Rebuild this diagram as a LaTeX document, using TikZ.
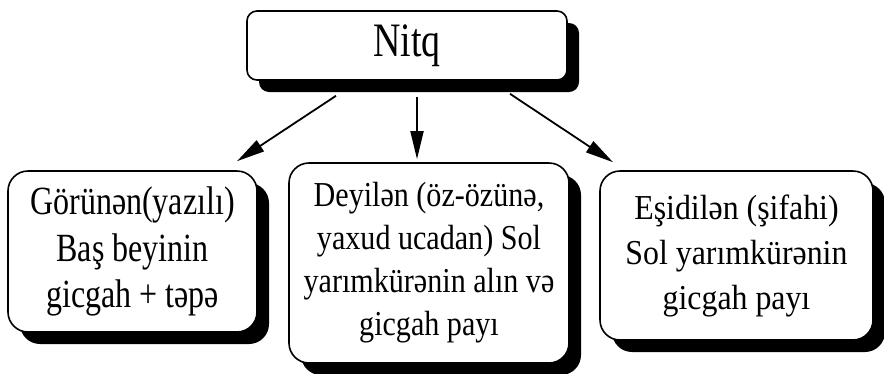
\documentclass[tikz,border=0pt]{standalone}
\usepackage{fontspec}
\setmainfont{Liberation Serif}
\newfontfamily\fnitq{Liberation Serif}[FakeStretch=0.79]
\newfontfamily\fleft{Liberation Serif}[FakeStretch=0.8]
\newfontfamily\fmid{Liberation Serif}[FakeStretch=0.86]
\newfontfamily\fright{Liberation Serif}[FakeStretch=0.91]
\usetikzlibrary{shadows,arrows.meta}
\begin{document}
\begin{tikzpicture}[x=1pt,y=-1pt,
  box/.style={draw=black,line width=1.6pt,fill=white,align=center,inner sep=0pt,
    drop shadow={shadow xshift=12pt,shadow yshift=-12pt,fill=black,opacity=1}},
  arr/.style={line width=1.8pt,-{Triangle[length=28pt,width=13pt]}}]
\useasboundingbox (0,0) rectangle (884,373);
\node[box,rounded corners=10pt,minimum width=320pt,minimum height=69pt,
  font={\fnitq\fontsize{48}{56}\selectfont}] (nitq) at (407,45.5) {Nitq};
\node[box,rounded corners=20pt,minimum width=249pt,minimum height=161pt,
  font={\fleft\fontsize{40}{46.5}\selectfont}] (left) at (132.5,251.5)
  {Görünən(yazılı)\\Baş beyinin\\gicgah + təpə};
\node[box,rounded corners=20pt,minimum width=280pt,minimum height=200pt,
  font={\fmid\fontsize{35}{43}\selectfont}] (mid) at (429,263)
  {Deyilən (öz-özünə,\\yaxud ucadan) Sol\\yarımkürənin alın və\\gicgah payı};
\node[box,rounded corners=20pt,minimum width=273pt,minimum height=169pt,
  font={\fright\fontsize{35}{45}\selectfont}] (right) at (736.5,255.5)
  {Eşidilən (şifahi)\\Sol yarımkürənin\\gicgah payı};
\draw[arr] ([xshift=-71pt,yshift=-15pt]nitq.south) -- ([xshift=104.5pt,yshift=9pt]left.north);
\draw[arr] ([xshift=10pt,yshift=-16pt]nitq.south) -- ([xshift=-12pt,yshift=3pt]mid.north);
\draw[arr] ([xshift=103pt,yshift=-13pt]nitq.south) -- ([xshift=-123.5pt,yshift=8pt]right.north);
\end{tikzpicture}
\end{document}
